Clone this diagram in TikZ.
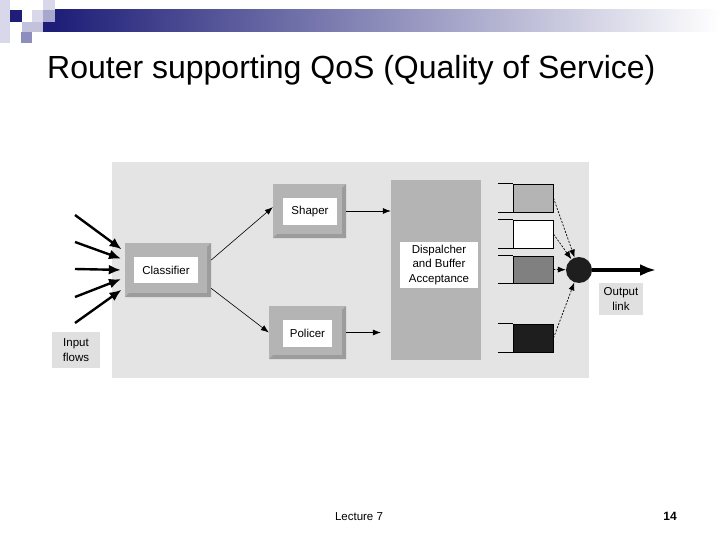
\documentclass[tikz,border=0pt]{standalone}
\usepackage{fontspec}
\setmainfont{Liberation Sans}
\usetikzlibrary{arrows.meta}
\definecolor{panel}{HTML}{E4E4E4}
\definecolor{boxgray}{HTML}{B4B4B4}
\definecolor{boxdark}{HTML}{9C9C9C}
\definecolor{labelgray}{HTML}{E0E0E0}
\definecolor{navy}{HTML}{1E1E78}
\definecolor{lav}{HTML}{D8D8EA}
\definecolor{lavmid}{HTML}{A8A8CF}
\definecolor{qmid}{HTML}{808080}
\definecolor{qdark}{HTML}{1E1E1E}

\tikzset{
  lbl/.style={font=\fontsize{11.5}{14.5}\selectfont, align=center, inner sep=0pt},
  inbox/.style={lbl, fill=white},
  bevel/.style={fill=boxgray, inner sep=0pt,
    path picture={\fill[boxdark] (path picture bounding box.south west)
      -- (path picture bounding box.south east) -- (path picture bounding box.north east)
      -- ([shift={(-4pt,-4pt)}]path picture bounding box.north east)
      -- ([shift={(-4pt,4pt)}]path picture bounding box.south east)
      -- ([shift={(4pt,4pt)}]path picture bounding box.south west) -- cycle;}},
  qbox/.style={draw, line width=0.9pt, minimum width=40pt, minimum height=28pt, inner sep=0pt},
  feed/.style={-{Latex[length=12pt,width=10pt]}, line width=2.4pt},
  link/.style={-{Latex[length=8pt,width=6pt]}, line width=0.6pt},
  pick/.style={-{Latex[length=8pt,width=6pt]}, line width=0.7pt, dash pattern=on 2pt off 1.5pt}
}

\begin{document}
\begin{tikzpicture}[x=1pt,y=-1pt]
\useasboundingbox (0,0) rectangle (720,540);

\fill[lav] (0,0) rectangle (10,43);
\fill[navy] (10,10) rectangle (22,22);
\fill[lav] (32,10) rectangle (43,22);
\fill[lavmid] (43,10) rectangle (55,22);
\fill[lav] (43,0) rectangle (55,10);
\fill[lavmid!70!white] (22,22) rectangle (43,32);
\fill[lavmid!80!navy] (21,32) rectangle (32,43);
\fill[navy] (43,22) rectangle (55,32);
\shade[left color=navy, right color=white] (55,10) rectangle (720,32);

\node[anchor=base west, font=\fontsize{32}{38}\selectfont, inner sep=0pt] (title) at (47,79) {Router supporting QoS (Quality of Service)};

\fill[panel] (112,162) rectangle (589,378);

\node[bevel, minimum width=86pt, minimum height=54pt] (classifierbox) at (168,270) {};
\node[inbox, minimum width=64pt, minimum height=26pt] (classifier) at (166,270) {Classifier};
\node[bevel, minimum width=73pt, minimum height=54pt] (shaperbox) at (309.5,211) {};
\node[inbox, minimum width=54pt, minimum height=27pt] (shaper) at (310,211.5) {Shaper};
\node[bevel, minimum width=77pt, minimum height=53pt] (policerbox) at (307.5,332.5) {};
\node[inbox, minimum width=49pt, minimum height=27pt] (policer) at (307.5,333.5) {Policer};

\node[fill=boxgray, minimum width=90pt, minimum height=180pt, inner sep=0pt] (dispbox) at (436,270) {};
\node[inbox, minimum width=78pt, minimum height=46pt] (dispatcher) at (439,265) {Dispalcher\\and Buffer\\Acceptance};

\node[qbox, fill=boxgray] (q1) at (533,198) {};
\node[qbox, fill=white] (q2) at (533,234) {};
\node[qbox, fill=qmid, minimum height=27pt] (q3) at (533,269.5) {};
\node[qbox, fill=qdark] (q4) at (533,338) {};
\foreach \q in {q1,q2,q3,q4}{
  \draw[line width=0.9pt] (\q.north west) -- ++(-15,0);
  \draw[line width=0.9pt] (\q.south west) -- ++(-15,0);
}

\node[circle, fill=qdark, minimum size=26pt, inner sep=0pt] (sched) at (579,270) {};
\coordinate (outlink) at (656,270);

\node[lbl, fill=labelgray, minimum width=48pt, minimum height=36pt] (inputlbl) at (76,350) {Input\\flows};
\node[lbl, fill=labelgray, minimum width=44pt, minimum height=32pt] (outputlbl) at (621,299) {Output\\link};

\foreach \y/\a in {215/157,242/167,269/180,297/190,323/202}{
  \coordinate (in\y) at (75,\y);
  \draw[feed, shorten >=4pt] (in\y) -- (classifierbox.\a);
}

\draw[link] (classifierbox.13) -- (shaperbox.174);
\draw[link] (classifierbox.337) -- (policerbox.west);
\draw[link] (shaperbox.east) -- (shaperbox.east -| dispbox.west);
\draw[link, shorten >=10pt] (policerbox.east) -- (policerbox.east -| dispbox.west);

\draw[pick] (q1.east) -- (sched);
\draw[pick] (q2.east) -- (sched);
\draw[pick] (q3.east) -- (sched);
\draw[pick] (q4.east) -- (sched);
\draw[-{Latex[length=16pt,width=12pt]}, line width=3.4pt] (sched) -- (outlink);

\node[font=\fontsize{11.5}{14}\selectfont, inner sep=0pt] (lecture) at (359,517) {Lecture 7};
\node[font=\fontsize{12}{14}\selectfont\bfseries, inner sep=0pt] (pagenum) at (670,516) {14};
\end{tikzpicture}
\end{document}
